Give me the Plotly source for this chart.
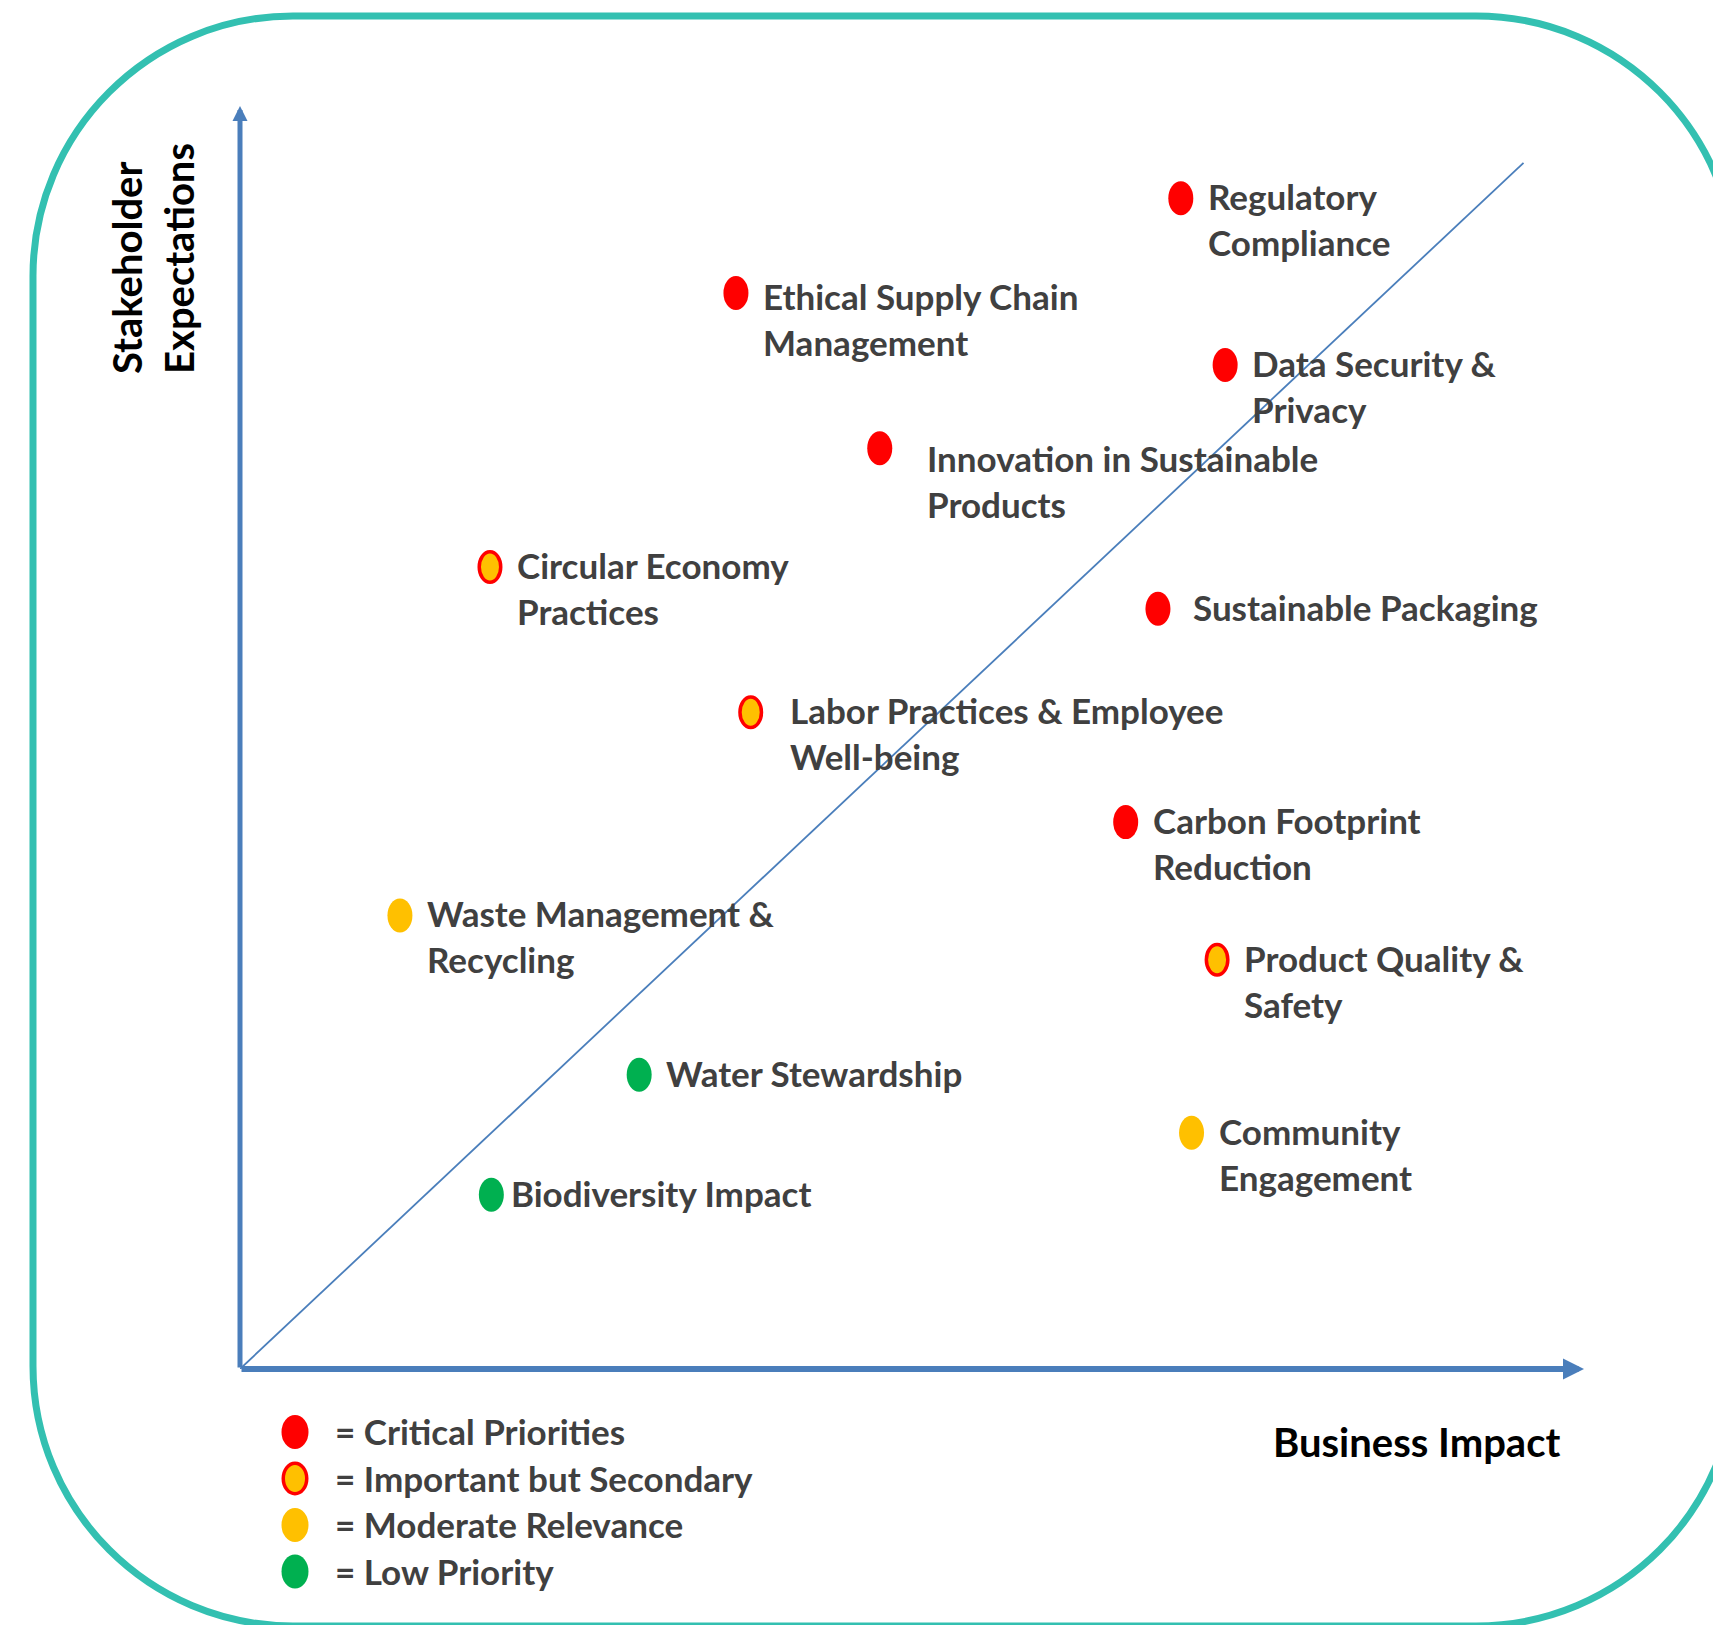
import plotly.graph_objects as go

# Materiality matrix: business impact (x) vs stakeholder expectations (y), 0-10 scale
topics = [
    "Regulatory<br>Compliance",
    "Ethical Supply Chain<br>Management",
    "Data Security &<br>Privacy",
    "Innovation in Sustainable<br>Products",
    "Circular Economy<br>Practices",
    "Sustainable Packaging",
    "Labor Practices & Employee<br>Well-being",
    "Carbon Footprint<br>Reduction",
    "Waste Management &<br>Recycling",
    "Product Quality &<br>Safety",
    "Water Stewardship",
    "Community<br>Engagement",
    "Biodiversity Impact",
]
business_impact = [7.00, 3.69, 7.33, 4.76, 1.86, 6.83, 3.80, 6.59, 1.19, 7.27, 2.97, 7.08, 1.87]
stakeholder_exp = [9.27, 8.52, 7.95, 7.29, 6.35, 6.02, 5.20, 4.33, 3.59, 3.24, 2.33, 1.87, 1.38]
priority = ["critical", "critical", "critical", "critical", "important", "critical",
            "important", "critical", "moderate", "important", "low", "moderate", "low"]

legend_keys = ["critical", "important", "moderate", "low"]
legend_labels = ["= Critical Priorities", "= Important but Secondary",
                 "= Moderate Relevance", "= Low Priority"]

diag_x = [0, 9.55]
diag_y = [0, 9.55]

# look of each priority level
STYLE = {
    "critical": dict(fill="#FF0000", line="#FF0000", width=0),
    "important": dict(fill="#FFC000", line="#FF0000", width=3.5),
    "moderate": dict(fill="#FFC000", line="#FFC000", width=0),
    "low": dict(fill="#00B050", line="#00B050", width=0),
}

W, H = 1721, 1625
PAGE_OFF = 8                      # the page body margin pushes the figure by 8px
OX, OY = 240, 1369                # origin of the axes on screen
PW, PH = 1344, 1263               # size of the 0..10 square on screen
BLUE = "#4A7EBB"
TEAL = "#33C0B1"
GREY = "#404040"
FONT = "Lato"
LABEL_SIZE = 35
LINE_H = LABEL_SIZE * 1.3

# label nudges (pixels) for a few labels that sit further from their dot
label_dx = {"Innovation in Sustainable<br>Products": 48, "Labor Practices & Employee<br>Well-being": 40,
            "Sustainable Packaging": 36, "Biodiversity Impact": 21}
label_dy = {"Innovation in Sustainable<br>Products": 12, "Ethical Supply Chain<br>Management": 5}


def px(x):
    return (x - OX) / PW


def py(y):
    return (OY - y) / PH


def ellipse(xref, yref, x, y, key, w=25, h=34):
    st = STYLE[key]
    shrink = st["width"] / 2
    return dict(type="circle", xref=xref, yref=yref, xsizemode="pixel", ysizemode="pixel",
                xanchor=x, yanchor=y, x0=-w / 2 + shrink, x1=w / 2 - shrink,
                y0=-h / 2 + shrink, y1=h / 2 - shrink, fillcolor=st["fill"],
                line=dict(color=st["line"], width=st["width"]), layer="above")


def rounded_rect(x0, y0, x1, y1, r):
    k = 0.5523 * r
    pts = [
        ("M", [(x0 + r, y0)]),
        ("L", [(x1 - r, y0)]),
        ("C", [(x1 - r + k, y0), (x1, y0 + r - k), (x1, y0 + r)]),
        ("L", [(x1, y1 - r)]),
        ("C", [(x1, y1 - r + k), (x1 - r + k, y1), (x1 - r, y1)]),
        ("L", [(x0 + r, y1)]),
        ("C", [(x0 + r - k, y1), (x0, y1 - r + k), (x0, y1 - r)]),
        ("L", [(x0, y0 + r)]),
        ("C", [(x0, y0 + r - k), (x0 + r - k, y0), (x0 + r, y0)]),
    ]
    d = ""
    for cmd, ps in pts:
        d += cmd + " ".join(f"{px(a):.5f},{py(b):.5f}" for a, b in ps) + " "
    return d + "Z"


fig = go.Figure()

# diagonal reference line
fig.add_trace(go.Scatter(x=diag_x, y=diag_y, mode="lines",
                         line=dict(color=BLUE, width=1.8), hoverinfo="skip", showlegend=False))

shapes = []
annotations = []

# outer rounded frame
shapes.append(dict(type="path", xref="paper", yref="paper", path=rounded_rect(33, 16, 1736, 1626, 260),
                   line=dict(color=TEAL, width=7), layer="below"))

# topic dots and labels
for name, bx, sy, key in zip(topics, business_impact, stakeholder_exp, priority):
    shapes.append(ellipse("x", "y", bx, sy, key))
    n_lines = name.count("<br>") + 1
    annotations.append(dict(
        x=bx, y=sy, xref="x", yref="y", text=name, showarrow=False,
        xanchor="left", yanchor="middle", align="left",
        xshift=label_dx.get(name, 28) - 3,
        yshift=-(n_lines - 1) * LINE_H / 2 + 2 - label_dy.get(name, 0),
        font=dict(family=FONT, size=LABEL_SIZE, color=GREY, weight="bold"),
    ))

# axes arrows
annotations.append(dict(x=10, y=0, ax=0, ay=0, xref="x", yref="y", axref="x", ayref="y", text="",
                        showarrow=True, arrowhead=2, arrowwidth=6, arrowsize=0.7, arrowcolor=BLUE))
annotations.append(dict(x=0, y=10, ax=0, ay=0, xref="x", yref="y", axref="x", ayref="y", text="",
                        showarrow=True, arrowhead=2, arrowwidth=5, arrowsize=0.6, arrowcolor=BLUE))

# axis titles
annotations.append(dict(x=px(153), y=py(259), xref="paper", yref="paper", text="Stakeholder<br>Expectations",
                        textangle=-90, showarrow=False, xanchor="center", yanchor="middle", align="left",
                        font=dict(family=FONT, size=40, color="black", weight="bold")))
annotations.append(dict(x=px(1416), y=py(1442), xref="paper", yref="paper", text="Business Impact",
                        showarrow=False, xanchor="center", yanchor="middle",
                        font=dict(family=FONT, size=40, color="black", weight="bold")))

# legend
for i, (key, lab) in enumerate(zip(legend_keys, legend_labels)):
    yy = 1432 + i * 46.5
    shapes.append(ellipse("paper", "paper", px(295), py(yy), key, w=27, h=34))
    annotations.append(dict(x=px(333), y=py(yy), xref="paper", yref="paper", text=lab, showarrow=False,
                            xanchor="left", yanchor="middle", yshift=1,
                            font=dict(family=FONT, size=LABEL_SIZE, color=GREY, weight="bold")))

fig.update_layout(
    width=W, height=H,
    margin=dict(l=OX - PAGE_OFF, t=OY - PH - PAGE_OFF,
                r=W - (OX + PW - PAGE_OFF), b=H - (OY - PAGE_OFF), pad=0),
    paper_bgcolor="white", plot_bgcolor="white",
    xaxis=dict(range=[0, 10], visible=False, fixedrange=True),
    yaxis=dict(range=[0, 10], visible=False, fixedrange=True),
    shapes=shapes, annotations=annotations, showlegend=False,
)

fig.write_html("out.html")
